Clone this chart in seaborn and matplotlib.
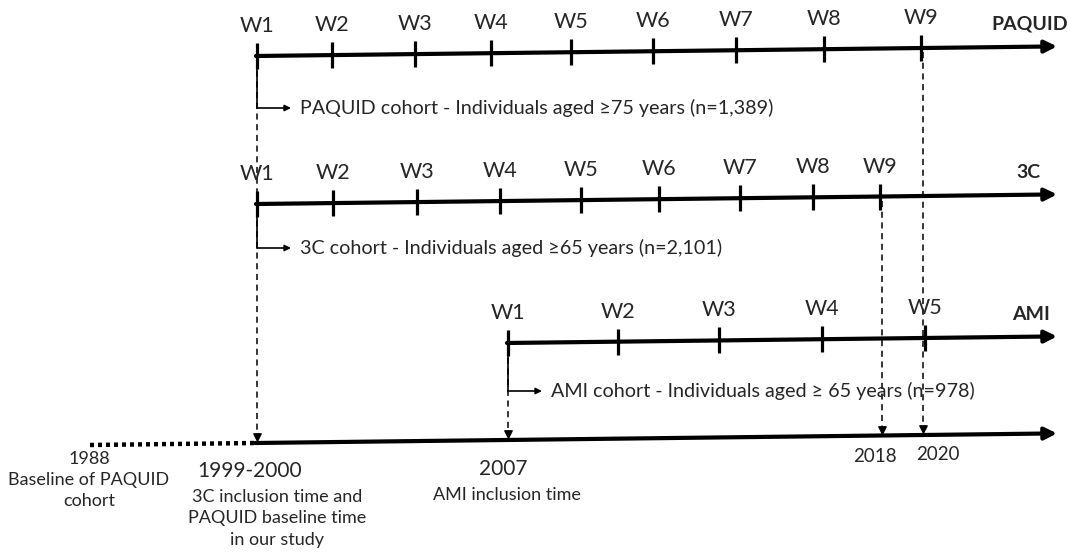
import pandas as pd
import seaborn as sns
from matplotlib import pyplot as plt

# wave positions along each cohort timeline (pixels across the figure)
cohorts = ['PAQUID', '3C', 'AMI']
paquid_x = [257, 332, 415, 491, 571, 653, 736, 824, 921]
c3_x = [257, 333, 417, 500, 581, 659, 740, 813, 880]
ami_x = [508, 618, 719, 822, 925]
cohort_text = ['PAQUID cohort - Individuals aged \u226575 years (n=1,389)',
               '3C cohort - Individuals aged \u226565 years (n=2,101)',
               'AMI cohort - Individuals aged \u2265 65 years (n=978)']

# calendar timeline at the bottom
date_labels = ['1988', '1999-2000', '2007', '2018', '2020']
date_notes = ['Baseline of PAQUID\ncohort', '3C inclusion time and\nPAQUID baseline time\nin our study',
              'AMI inclusion time', '', '']

sns.set_style('white')
plt.rcParams['font.family'] = ['Lato', 'DejaVu Sans']

row_y = [56, 204, 346]
bottom_y = 443
x_end = 1057
slope = 0.012          # the original is very slightly rotated


def tilt(x, y):
    return y - slope * (x - 257)


fig = plt.figure(figsize=(10.83, 5.55), dpi=100)
ax = fig.add_axes([0, 0, 1, 1])
ax.set_xlim(0, 1083)
ax.set_ylim(555, 0)
ax.axis('off')

rows = []
for name, xs, y0 in zip(cohorts, [paquid_x, c3_x, ami_x], row_y):
    for i, x in enumerate(xs):
        rows.append({'cohort': name, 'wave': 'W%d' % (i + 1), 'x': x, 'y': tilt(x, y0)})
waves = pd.DataFrame(rows)

## main cohort arrows
for name, xs, y0 in zip(cohorts, [paquid_x, c3_x, ami_x], row_y):
    ax.annotate('', xy=(x_end, tilt(x_end, y0)), xytext=(xs[0] - 1, tilt(xs[0], y0)),
                arrowprops=dict(arrowstyle='-|>', lw=3, color='black',
                                mutation_scale=18, shrinkA=0, shrinkB=0))

## ticks for the waves
sns.scatterplot(ax=ax, data=waves, x='x', y='y', marker='|', s=330,
                color='black', linewidth=2.3, legend=False, zorder=5)
for _, r in waves.iterrows():
    ax.text(r.x, r.y - 30, r.wave, ha='center', va='center', fontsize=15.5)

## cohort names
for name, y0, xr in zip(cohorts, row_y, [1068, 1040, 1050]):
    ax.text(xr, tilt(x_end, y0) - 22, name, ha='right', va='center',
            fontsize=14, fontweight='bold')

## bracket arrows with cohort descriptions
for txt, xs, y0, by in zip(cohort_text, [paquid_x, c3_x, ami_x], row_y, [108, 248, 391]):
    x0 = xs[0]
    ax.plot([x0, x0], [tilt(x0, y0), by], color='black', lw=1.2)
    ax.annotate('', xy=(x0 + 34, by), xytext=(x0, by),
                arrowprops=dict(arrowstyle='-|>', lw=1.2, color='black',
                                mutation_scale=9, shrinkA=0, shrinkB=0))
    ax.text(x0 + 43, by, txt, ha='left', va='center', fontsize=14.2)

## bottom calendar line
ax.plot([90, 255], [bottom_y + 2, bottom_y], color='black', lw=3.2, ls=(0, (0.9, 0.9)))
ax.annotate('', xy=(x_end, tilt(x_end, bottom_y)), xytext=(255, bottom_y),
            arrowprops=dict(arrowstyle='-|>', lw=3, color='black',
                            mutation_scale=18, shrinkA=0, shrinkB=0))

## dashed connectors down to the calendar line
links = [(257, 0), (508, 2), (882, 1), (923, 0)]
for x, k in links:
    tip = tilt(x, bottom_y) - 3
    ax.plot([x, x], [tilt(x, row_y[k]) + 4, tip - 6], color='black', lw=1.1, ls=(0, (4, 3)))
    ax.scatter([x], [tip - 3], marker='v', s=28, color='black', zorder=6)

## date labels and notes
date_x = [89, 250, 503, 875, 938]
date_y = [459, 471, 469, 457, 455]
date_size = [13, 15, 15, 13.5, 13.5]
note_x = [89, 277, 507, 0, 0]
note_y = [483, 500, 498, 0, 0]
for lab, nt, dx, dy, fs, nx, ny in zip(date_labels, date_notes, date_x, date_y,
                                        date_size, note_x, note_y):
    ax.text(dx, dy, lab, ha='center', va='center', fontsize=fs)
    if nt:
        ax.text(nx, ny - 11, nt, ha='center', va='top', fontsize=13, linespacing=1.42)

fig.savefig('out.png', dpi=100)
